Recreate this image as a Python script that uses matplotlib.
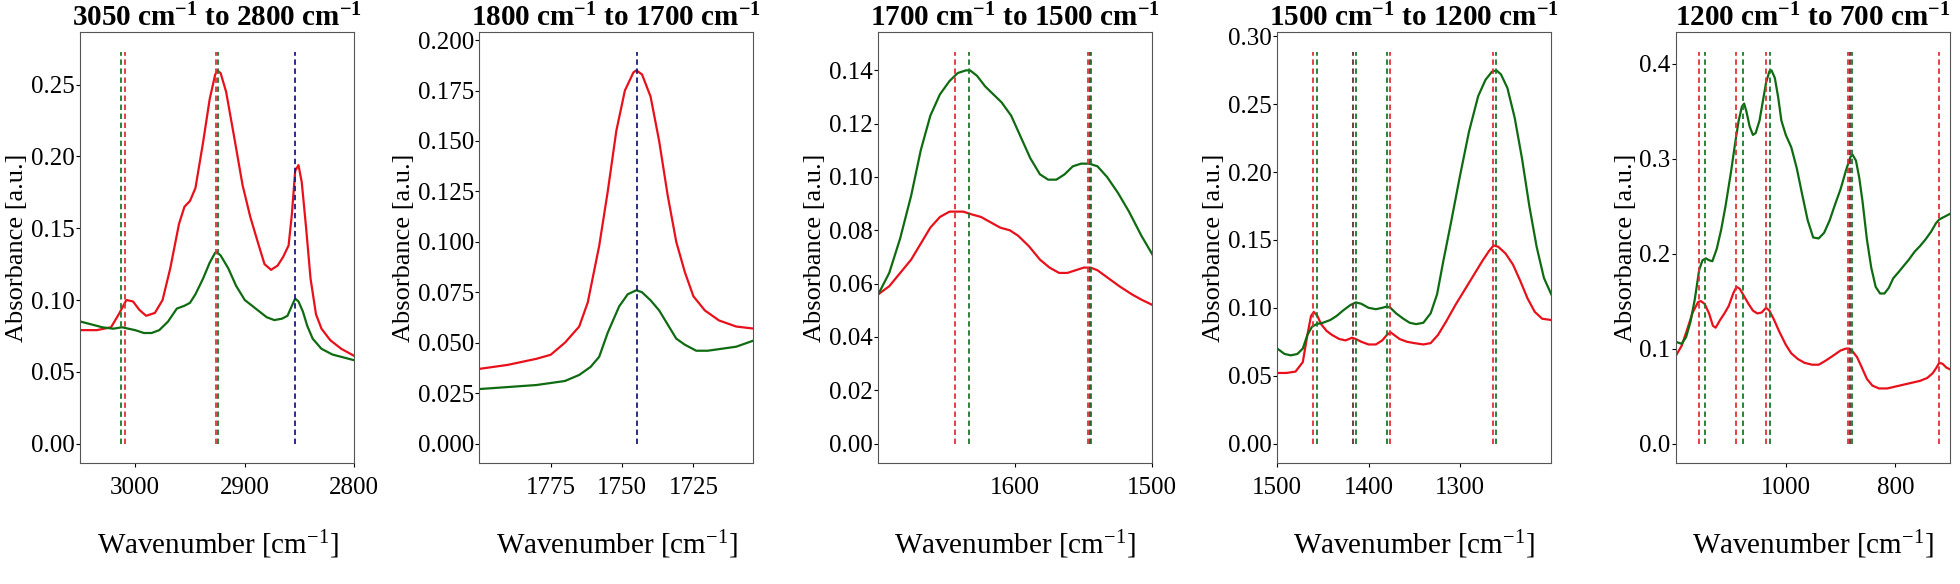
import numpy as np
import matplotlib
matplotlib.use("Agg")
import matplotlib.pyplot as plt
from matplotlib.ticker import MultipleLocator, FormatStrFormatter

plt.rcParams['font.family'] = ['Liberation Serif', 'DejaVu Serif']
plt.rcParams['mathtext.fontset'] = 'custom'
plt.rcParams['mathtext.rm'] = 'Liberation Serif'
plt.rcParams['mathtext.it'] = 'Liberation Serif:italic'
plt.rcParams['mathtext.bf'] = 'Liberation Serif:bold'

# --- data (wavenumber, absorbance) ---
# panel 1: 3050 - 2800
wn1_red = [3050, 3035, 3022, 3015, 3008, 3002, 2996, 2990, 2982, 2975, 2968, 2960, 2955, 2950, 2945,
           2938, 2932, 2927, 2925, 2922, 2917, 2910, 2902, 2895, 2888, 2882, 2876, 2870, 2865, 2860,
           2857, 2854, 2851, 2848, 2844, 2840, 2835, 2830, 2822, 2812, 2800]
ab1_red = [0.079, 0.079, 0.081, 0.090, 0.100, 0.099, 0.093, 0.089, 0.091, 0.100, 0.122, 0.153, 0.165, 0.169, 0.178,
           0.210, 0.240, 0.257, 0.260, 0.258, 0.245, 0.215, 0.180, 0.158, 0.140, 0.125, 0.121, 0.124, 0.130, 0.138,
           0.160, 0.190, 0.194, 0.182, 0.150, 0.115, 0.090, 0.080, 0.072, 0.066, 0.061]
wn1_grn = [3050, 3040, 3030, 3020, 3012, 3006, 3000, 2992, 2985, 2978, 2970, 2962, 2955, 2950, 2945,
           2938, 2932, 2927, 2925, 2922, 2915, 2908, 2900, 2890, 2880, 2873, 2866, 2861, 2857, 2854,
           2851, 2847, 2843, 2838, 2830, 2820, 2810, 2800]
ab1_grn = [0.085, 0.083, 0.081, 0.080, 0.081, 0.080, 0.079, 0.077, 0.077, 0.079, 0.085, 0.094, 0.096, 0.098, 0.104,
           0.115, 0.126, 0.133, 0.133, 0.131, 0.122, 0.110, 0.100, 0.094, 0.088, 0.086, 0.087, 0.089, 0.096, 0.101,
           0.099, 0.092, 0.082, 0.073, 0.066, 0.062, 0.060, 0.058]

# panel 2: 1800 - 1704
wn2_red = [1800, 1790, 1780, 1775, 1770, 1765, 1762, 1758, 1755, 1752, 1749, 1746, 1745, 1743, 1740,
           1737, 1734, 1731, 1728, 1725, 1721, 1716, 1710, 1704]
ab2_red = [0.037, 0.039, 0.042, 0.044, 0.050, 0.058, 0.070, 0.098, 0.125, 0.155, 0.175, 0.184, 0.185, 0.183, 0.172,
           0.150, 0.123, 0.100, 0.085, 0.073, 0.066, 0.061, 0.058, 0.057]
wn2_grn = [1800, 1790, 1780, 1775, 1770, 1765, 1761, 1758, 1755, 1751, 1748, 1745, 1743, 1740, 1737,
           1734, 1731, 1728, 1724, 1720, 1715, 1710, 1704]
ab2_grn = [0.027, 0.028, 0.029, 0.030, 0.031, 0.034, 0.038, 0.043, 0.055, 0.068, 0.074, 0.076, 0.075, 0.071, 0.066,
           0.059, 0.052, 0.049, 0.046, 0.046, 0.047, 0.048, 0.051]

# panel 3: 1700 - 1500
wn3_red = [1700, 1692, 1684, 1676, 1669, 1662, 1655, 1648, 1644, 1638, 1632, 1625, 1618, 1611, 1604,
           1598, 1590, 1582, 1575, 1568, 1562, 1556, 1550, 1545, 1540, 1532, 1524, 1515, 1508, 1500]
ab3_red = [0.056, 0.059, 0.064, 0.069, 0.075, 0.081, 0.085, 0.087, 0.087, 0.087, 0.086, 0.085, 0.083, 0.081, 0.080,
           0.078, 0.074, 0.069, 0.066, 0.064, 0.064, 0.065, 0.066, 0.066, 0.065, 0.062, 0.059, 0.056, 0.054, 0.052]
wn3_grn = [1700, 1692, 1684, 1676, 1669, 1662, 1655, 1648, 1642, 1636, 1633, 1628, 1622, 1616, 1610,
           1603, 1596, 1589, 1582, 1576, 1570, 1564, 1558, 1552, 1546, 1540, 1533, 1525, 1517, 1508, 1500]
ab3_grn = [0.056, 0.064, 0.077, 0.093, 0.110, 0.123, 0.131, 0.136, 0.139, 0.140, 0.140, 0.138, 0.134, 0.131, 0.128,
           0.123, 0.115, 0.107, 0.101, 0.099, 0.099, 0.101, 0.104, 0.105, 0.105, 0.104, 0.100, 0.094, 0.087, 0.078, 0.071]

# panel 4: 1500 - 1200
wn4_red = [1500, 1490, 1480, 1472, 1467, 1463, 1460, 1456, 1452, 1446, 1440, 1432, 1425, 1418, 1414,
           1408, 1400, 1392, 1385, 1380, 1376, 1372, 1366, 1358, 1350, 1340, 1332, 1324, 1315, 1305,
           1295, 1285, 1275, 1268, 1263, 1258, 1250, 1242, 1234, 1226, 1218, 1210, 1200]
ab4_red = [0.052, 0.052, 0.053, 0.060, 0.080, 0.094, 0.097, 0.094, 0.088, 0.083, 0.080, 0.077, 0.076, 0.078, 0.077,
           0.075, 0.073, 0.073, 0.076, 0.080, 0.082, 0.080, 0.077, 0.075, 0.074, 0.073, 0.074, 0.080, 0.090, 0.102,
           0.113, 0.124, 0.135, 0.142, 0.146, 0.145, 0.140, 0.132, 0.120, 0.107, 0.097, 0.092, 0.091]
wn4_grn = [1500, 1492, 1485, 1478, 1472, 1467, 1462, 1457, 1450, 1442, 1435, 1428, 1420, 1414, 1408,
           1400, 1392, 1385, 1380, 1376, 1370, 1362, 1355, 1348, 1340, 1332, 1325, 1318, 1310, 1300,
           1290, 1280, 1272, 1265, 1260, 1255, 1248, 1240, 1232, 1224, 1216, 1208, 1200]
ab4_grn = [0.070, 0.066, 0.065, 0.066, 0.070, 0.080, 0.086, 0.088, 0.089, 0.091, 0.094, 0.098, 0.102, 0.104, 0.103,
           0.100, 0.099, 0.100, 0.101, 0.100, 0.096, 0.092, 0.089, 0.088, 0.089, 0.096, 0.110, 0.135, 0.162, 0.197,
           0.230, 0.256, 0.268, 0.274, 0.275, 0.272, 0.262, 0.240, 0.210, 0.175, 0.145, 0.122, 0.110]

# panel 5: 1200 - 700
wn5_red = [1200, 1190, 1180, 1170, 1160, 1155, 1148, 1140, 1133, 1128, 1120, 1112, 1104, 1096, 1090,
           1084, 1076, 1068, 1060, 1052, 1044, 1036, 1030, 1022, 1012, 1000, 990, 978, 966, 952,
           940, 928, 915, 900, 890, 884, 878, 870, 862, 852, 842, 830, 815, 800, 785, 770,
           755, 742, 732, 725, 720, 714, 707, 700]
ab5_red = [0.093, 0.103, 0.120, 0.138, 0.149, 0.150, 0.147, 0.137, 0.124, 0.122, 0.130, 0.137, 0.145, 0.158, 0.165,
           0.163, 0.155, 0.147, 0.140, 0.137, 0.138, 0.143, 0.140, 0.131, 0.118, 0.104, 0.095, 0.089, 0.085, 0.083,
           0.083, 0.087, 0.092, 0.098, 0.100, 0.100, 0.097, 0.091, 0.081, 0.068, 0.061, 0.058, 0.058, 0.060, 0.062, 0.064,
           0.066, 0.069, 0.074, 0.080, 0.085, 0.084, 0.080, 0.078]
wn5_grn = [1200, 1190, 1182, 1174, 1166, 1158, 1152, 1146, 1140, 1134, 1126, 1118, 1110, 1100, 1092,
           1086, 1080, 1076, 1072, 1066, 1060, 1055, 1048, 1042, 1036, 1030, 1026, 1020, 1014, 1008,
           1000, 990, 980, 970, 960, 950, 940, 930, 920, 910, 900, 890, 882, 878, 872, 866,
           860, 852, 844, 836, 828, 820, 812, 804, 795, 785, 775, 765, 755, 745, 735,
           726, 720, 710, 700]
ab5_grn = [0.107, 0.105, 0.112, 0.128, 0.152, 0.183, 0.193, 0.195, 0.193, 0.192, 0.205, 0.225, 0.250, 0.286, 0.318,
           0.340, 0.355, 0.358, 0.350, 0.334, 0.325, 0.327, 0.340, 0.360, 0.380, 0.392, 0.393, 0.385, 0.365, 0.340,
           0.325, 0.312, 0.290, 0.262, 0.235, 0.217, 0.216, 0.222, 0.235, 0.252, 0.268, 0.288, 0.302, 0.304, 0.298, 0.280,
           0.255, 0.215, 0.185, 0.165, 0.158, 0.158, 0.164, 0.174, 0.180, 0.187, 0.194, 0.202, 0.208, 0.215, 0.223,
           0.232, 0.236, 0.239, 0.242]

# peak markers (wavenumber, colour) per panel
vl1 = [(3012.5, 'g'), (3009.5, 'r'), (2925.8, 'r'), (2924.8, 'g'), (2854.0, 'b')]
vl2 = [(1744.7, 'b')]
vl3 = [(1644.0, 'r'), (1634.0, 'g'), (1547.0, 'r'), (1545.5, 'k'), (1544.5, 'g')]
vl4 = [(1461.0, 'r'), (1456.5, 'g'), (1417.5, 'k'), (1413.5, 'g'), (1380.0, 'g'), (1376.0, 'r'),
       (1264.0, 'r'), (1260.0, 'g')]
vl5 = [(1158.5, 'r'), (1147.0, 'g'), (1091.0, 'r'), (1079.0, 'g'), (1035.5, 'r'), (1028.0, 'g'),
       (886.0, 'r'), (883.0, 'k'), (879.5, 'g'), (720.0, 'r')]

titles = [r'3050 cm$^{\mathbf{-1}}$ to 2800 cm$^{\mathbf{-1}}$',
          r'1800 cm$^{\mathbf{-1}}$ to 1700 cm$^{\mathbf{-1}}$',
          r'1700 cm$^{\mathbf{-1}}$ to 1500 cm$^{\mathbf{-1}}$',
          r'1500 cm$^{\mathbf{-1}}$ to 1200 cm$^{\mathbf{-1}}$',
          r'1200 cm$^{\mathbf{-1}}$ to 700 cm$^{\mathbf{-1}}$']
xlims = [(3050, 2800), (1800, 1704), (1700, 1500), (1500, 1200), (1200, 700)]
xticks = [[3000, 2900, 2800], [1775, 1750, 1725], [1600, 1500], [1500, 1400, 1300], [1000, 800]]
ystep = [0.05, 0.025, 0.02, 0.05, 0.1]
yfmt = ['%.2f', '%.3f', '%.2f', '%.2f', '%.1f']

panels = [
    (wn1_red, ab1_red, wn1_grn, ab1_grn, vl1),
    (wn2_red, ab2_red, wn2_grn, ab2_grn, vl2),
    (wn3_red, ab3_red, wn3_grn, ab3_grn, vl3),
    (wn4_red, ab4_red, wn4_grn, ab4_grn, vl4),
    (wn5_red, ab5_red, wn5_grn, ab5_grn, vl5),
]

line_col = {'r': '#e8101a', 'g': '#0f6b12', 'b': '#1c1c78', 'k': '#5a2a2a'}
vline_col = {'r': '#e0303a', 'g': '#1a7a2a', 'b': '#1c1c78', 'k': '#603030'}

fig, axes = plt.subplots(1, 5, figsize=(19.6, 5.84), dpi=100)
fig.subplots_adjust(left=0.041, right=0.995, top=0.945, bottom=0.207, wspace=0.456)

for i, ax in enumerate(axes):
    wr, ar, wg, ag, vl = panels[i]
    ax.plot(wr, ar, color=line_col['r'], lw=1.6)
    ax.plot(wg, ag, color=line_col['g'], lw=1.6)
    top = 1.05 * max(max(ar), max(ag))
    for x, c in vl:
        ax.vlines(x, 0, top, colors=vline_col[c], linestyles=(0, (3, 2)), lw=1.3)
    ax.set_xlim(*xlims[i])
    ax.set_xticks(xticks[i])
    ax.yaxis.set_major_locator(MultipleLocator(ystep[i]))
    ax.yaxis.set_major_formatter(FormatStrFormatter(yfmt[i]))
    ax.set_title(titles[i], fontsize=21, fontweight='bold', pad=0)
    ax.set_xlabel(r'Wavenumber [cm$^{-1}$]', fontsize=21, labelpad=21)
    ax.set_ylabel('Absorbance [a.u.]', fontsize=19, labelpad=2)
    ax.tick_params(labelsize=18, length=3)
    ax.tick_params(axis='x', pad=7)
    ax.tick_params(axis='y', pad=1)
    for s in ax.spines.values():
        s.set_color('#555555')

fig.savefig('out.png', dpi=100)
